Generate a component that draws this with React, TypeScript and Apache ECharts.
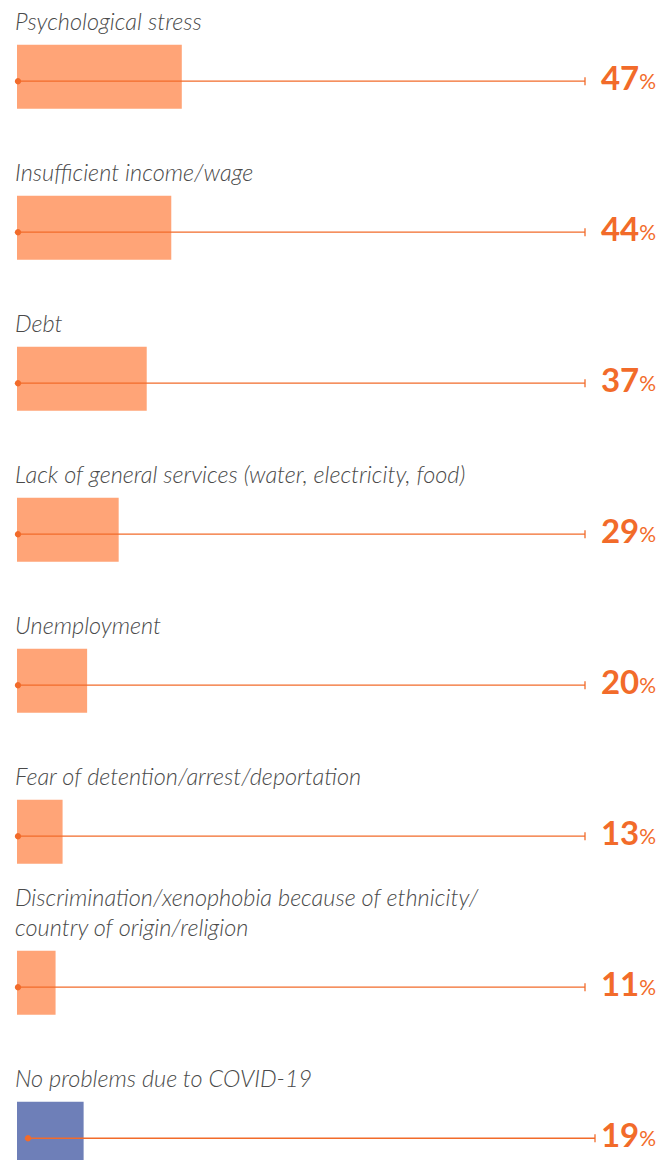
import React, { useEffect, useRef } from "react";
import * as echarts from "echarts";

const categories = [
  "Psychological stress",
  "Insufficient income/wage",
  "Debt",
  "Lack of general services (water, electricity, food)",
  "Unemployment",
  "Fear of detention/arrest/deportation",
  "Discrimination/xenophobia because of ethnicity/\ncountry of origin/religion",
  "No problems due to COVID-19",
];
const values = [47, 44, 37, 29, 20, 13, 11, 19];
const groups = ["problem", "problem", "problem", "problem", "problem", "problem", "problem", "none"];

const BAR_ORANGE = "#FFA477";
const BAR_BLUE = "#6E7FB8";
const LINE_COLOR = "#F26B2A";
const LABEL_COLOR = "#F26B2A";
const TEXT_COLOR = "#4a4a4a";

export default function App() {
  const ref = useRef<HTMLDivElement>(null);
  useEffect(() => {
    if (!ref.current) return;
    const chart = echarts.init(ref.current, null, { renderer: "svg" });
    const option: any = {
      animation: false,
      backgroundColor: "#ffffff",
      grid: { left: 17, right: 75, top: 0, bottom: 0, containLabel: false },
      xAxis: { type: "value", min: 0, max: 162, show: false },
      yAxis: { type: "value", min: -0.508, max: 7.174, inverse: true, show: false },
      series: [
        {
          type: "custom",
          clip: false,
          encode: { x: 0, y: 1 },
          data: values.map((v, i) => [v, i]),
          renderItem: (params: any, api: any) => {
            const i = api.value(1) as number;
            const v = api.value(0) as number;
            const p1 = api.coord([v, i]);
            const p0 = api.coord([0, i]);
            const cs = params.coordSys;
            const xEnd = cs.x + cs.width;
            const shift = groups[i] === "none" ? 10 : 0;
            const barH = 64;
            const top = p1[1] - barH / 2;
            const ly = top + 36.5;
            const fill = groups[i] === "none" ? BAR_BLUE : BAR_ORANGE;
            return {
              type: "group",
              children: [
                {
                  type: "rect",
                  shape: { x: p0[0], y: top, width: p1[0] - p0[0], height: barH },
                  style: { fill },
                },
                {
                  type: "line",
                  shape: { x1: p0[0] + 1 + shift, y1: ly, x2: xEnd + shift, y2: ly },
                  style: { stroke: LINE_COLOR, lineWidth: 1.3 },
                },
                {
                  type: "circle",
                  shape: { cx: p0[0] + 1 + shift, cy: ly, r: 3.2 },
                  style: { fill: LINE_COLOR },
                },
                {
                  type: "line",
                  shape: { x1: xEnd + shift, y1: ly - 4, x2: xEnd + shift, y2: ly + 4 },
                  style: { stroke: LINE_COLOR, lineWidth: 1.3 },
                },
                {
                  type: "text",
                  style: {
                    text: categories[i],
                    x: 15,
                    y: top - 9,
                    verticalAlign: "bottom",
                    fontFamily: "Lato",
                    fontStyle: "italic",
                    fontWeight: 300,
                    fontSize: 23.5,
                    lineHeight: 30,
                    fill: TEXT_COLOR,
                  },
                },
                {
                  type: "text",
                  style: {
                    text: `{n|${v}}{p|%}`,
                    x: 656,
                    y: ly - 4,
                    align: "right",
                    verticalAlign: "middle",
                    rich: {
                      n: {
                        fontFamily: "Lato",
                        fontWeight: "bold",
                        fontSize: 33,
                        fill: LABEL_COLOR,
                        color: LABEL_COLOR,
                      },
                      p: {
                        fontFamily: "Lato",
                        fontWeight: "normal",
                        fontSize: 21,
                        fill: LABEL_COLOR,
                        color: LABEL_COLOR,
                        padding: [6, 0, 0, 0],
                      },
                    },
                  },
                },
              ],
            };
          },
        },
      ],
    };
    chart.setOption(option);
    return () => chart.dispose();
  }, []);
  return (
    <div
      ref={ref}
      style={{ position: "absolute", left: 0, top: 0, width: 660, height: 1160 }}
    />
  );
}
